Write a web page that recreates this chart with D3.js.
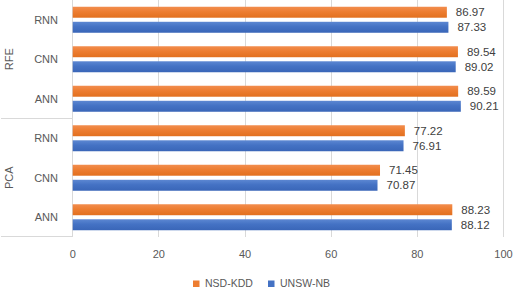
<!DOCTYPE html>
<html><head><meta charset="utf-8">
<script src="https://cdn.jsdelivr.net/npm/d3@7"></script>
<style>body{margin:0;background:#fff}svg{display:block}text{font-family:"Liberation Sans",Arial,sans-serif}</style>
</head><body>
<script>
const groups = ["RFE", "PCA"];
const models = ["RNN", "CNN", "ANN"];
const seriesNames = ["NSD-KDD", "UNSW-NB"];
const nsdKdd = [86.97, 89.54, 89.59, 77.22, 71.45, 88.23];
const unswNb = [87.33, 89.02, 90.21, 76.91, 70.87, 88.12];
const xTicks = [0, 20, 40, 60, 80, 100];

const W = 514, H = 288;
const colors = ["#ED7D31", "#4472C4"];
const svg = d3.select("body").append("svg").attr("width", W).attr("height", H);

const defs = svg.append("defs");
[["gO", "#F28D4E", "#ED7D31", "#E2701F"], ["gB", "#5C87D2", "#4472C4", "#3A66B8"]].forEach(([id, a, b, c]) => {
  const g = defs.append("linearGradient").attr("id", id).attr("x1", 0).attr("x2", 0).attr("y1", 0).attr("y2", 1);
  g.append("stop").attr("offset", "0%").attr("stop-color", a);
  g.append("stop").attr("offset", "45%").attr("stop-color", b);
  g.append("stop").attr("offset", "100%").attr("stop-color", c);
});

const rows = [];
groups.forEach((g, gi) => models.forEach((m, mi) => rows.push({ key: g + "-" + m, group: g, model: m, i: gi * 3 + mi })));

const x = d3.scaleLinear().domain([0, 100]).range([72.2, 503]);
const y = d3.scaleBand().domain(rows.map(r => r.key)).range([0, 237]);
const ys = d3.scaleBand().domain(seriesNames).range([6.75, y.bandwidth() - 6.75]).paddingInner(0.27);

// gridlines
svg.append("g").selectAll("line").data(xTicks.slice(1)).join("line")
  .attr("x1", d => Math.round(x(d)) + 0.5).attr("x2", d => Math.round(x(d)) + 0.5)
  .attr("y1", 0).attr("y2", 237).attr("stroke", "#D9D9D9").attr("stroke-width", 1);

// category axis lines
svg.append("line").attr("x1", 72.5).attr("x2", 72.5).attr("y1", 0).attr("y2", 237).attr("stroke", "#D9D9D9");
[119, 237].forEach(yy => svg.append("line").attr("x1", 1).attr("x2", 72.5).attr("y1", yy - 0.5).attr("y2", yy - 0.5).attr("stroke", "#D9D9D9"));

// bars
const series = [nsdKdd, unswNb];
const barG = svg.append("g");
series.forEach((vals, si) => {
  barG.selectAll(".b" + si).data(rows).join("rect")
    .attr("x", x(0) + 0.5)
    .attr("y", d => y(d.key) + ys(seriesNames[si]))
    .attr("width", d => x(vals[d.i]) - x(0) - 0.5)
    .attr("height", ys.bandwidth())
    .attr("fill", si === 0 ? "url(#gO)" : "url(#gB)");
  barG.selectAll(".l" + si).data(rows).join("text")
    .attr("x", d => x(vals[d.i]) + 9)
    .attr("y", d => y(d.key) + ys(seriesNames[si]) + ys.bandwidth() / 2)
    .attr("dy", "0.36em")
    .attr("font-size", 11.5).attr("fill", "#404040")
    .text(d => vals[d.i].toFixed(2));
});

// category labels
svg.append("g").selectAll("text").data(rows).join("text")
  .attr("x", 58).attr("y", d => y(d.key) + y.bandwidth() / 2).attr("dy", "0.36em")
  .attr("text-anchor", "end").attr("font-size", 11).attr("fill", "#595959")
  .text(d => d.model);

// group labels
groups.forEach((g, gi) => {
  const cy = (y(g + "-RNN") + y(g + "-ANN") + y.bandwidth()) / 2;
  svg.append("text").attr("transform", `translate(13,${cy}) rotate(-90)`)
    .attr("text-anchor", "middle").attr("font-size", 11).attr("fill", "#595959").text(g);
});

// x axis
const xa = svg.append("g").attr("transform", "translate(0,254)")
  .call(d3.axisBottom(x).tickValues(xTicks).tickSize(0).tickPadding(0));
xa.select(".domain").remove();
xa.selectAll("text").attr("dy", "0.36em").attr("font-size", 11).attr("fill", "#595959")
  .style("font-family", '"Liberation Sans",Arial,sans-serif');

// legend
const leg = svg.append("g");
const legX = [193, 268];
seriesNames.forEach((s, i) => {
  leg.append("rect").attr("x", legX[i]).attr("y", 280.5).attr("width", 6.5).attr("height", 6.5).attr("fill", colors[i]);
  leg.append("text").attr("x", legX[i] + 12).attr("y", 283.7).attr("dy", "0.36em")
    .attr("font-size", 10.5).attr("fill", "#595959").text(s);
});
</script>
</body></html>
